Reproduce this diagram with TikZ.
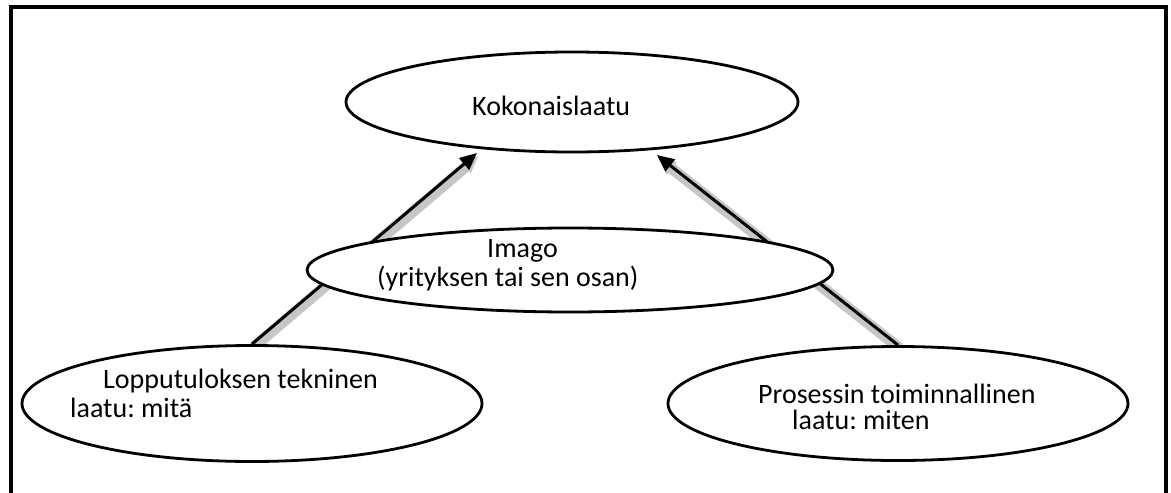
\documentclass[tikz,border=0pt]{standalone}
\usepackage{fontspec}
\setmainfont{Carlito}
\frenchspacing
\usetikzlibrary{shapes.geometric,arrows.meta,backgrounds}
\begin{document}
\begin{tikzpicture}[x=1pt,y=-1pt,
  oval/.style={draw=black, line width=2.8pt, fill=white, ellipse, inner sep=0pt},
  lbl/.style={font=\fontsize{28}{32}\selectfont, inner sep=0pt, anchor=base west},
  link/.style={line width=3pt, -{Triangle[length=17pt,width=15pt]},
    preaction={draw=gray!45, line width=11pt, transform canvas={shift={(1.5pt,-3pt)}}}},
  frame/.style={line width=4pt, line cap=rect}
]
\useasboundingbox (0,0) rectangle (1171,493);

% open frame around the diagram
\coordinate (fBL) at (11,496);
\coordinate (fTL) at (11,7);
\coordinate (fTR) at (1166,7);
\coordinate (fBR) at (1166,496);
\draw[frame] (fBL) -- (fTL) -- (fTR) -- (fBR);

% quality components
\node[oval, minimum width=452, minimum height=100] (total) at (572,102) {};
\node[oval, minimum width=526, minimum height=84] (image) at (570,270) {};
\node[oval, minimum width=460, minimum height=116] (tech) at (252,403.5) {};
\node[oval, minimum width=460, minimum height=114] (func) at (898,403.5) {};

% texts
\node[lbl] (totalT) at (472,115) {Kokonaislaatu};
\node[lbl] (imageA) at (487,257) {Imago};
\node[lbl] (imageB) at (377,286) {(yrityksen tai sen osan)};
\node[lbl] (techA) at (103,388) {Lopputuloksen tekninen};
\node[lbl] (techB) at (70,417) {laatu: mitä};
\node[lbl] (funcA) at (758,403) {Prosessin toiminnallinen};
\node[lbl] (funcB) at (792,429) {laatu: miten};

% arrows pointing up to the overall quality
\coordinate (tipL) at (477,153);
\coordinate (tipR) at (657,155);
\begin{scope}[on background layer]
  \draw[link] (tech.north) -- (tipL);
  \draw[link] (func.north) -- (tipR);
\end{scope}
\end{tikzpicture}
\end{document}
